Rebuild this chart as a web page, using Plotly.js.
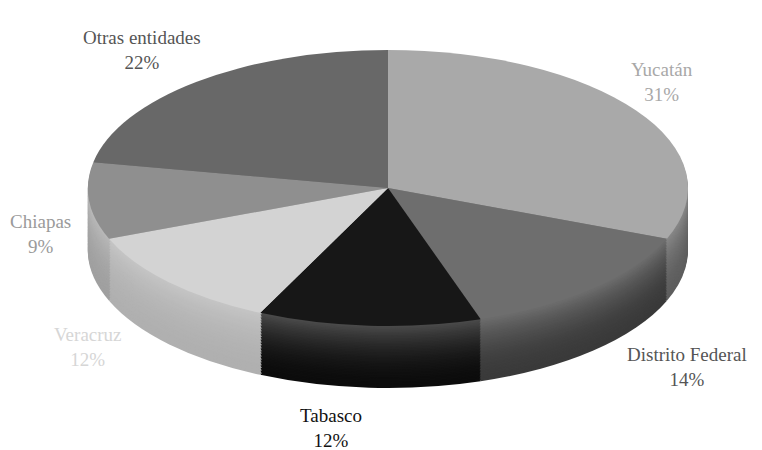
<!DOCTYPE html>
<html>
<head>
<meta charset="utf-8">
<script src="https://cdn.plot.ly/plotly-3.0.1.min.js"></script>
<style>
  html, body { margin: 0; padding: 0; background: #ffffff; }
  #chart { width: 762px; height: 450px; }
</style>
</head>
<body>
<div id="chart"></div>
<script>
// ---- Data ----
var categories = ['Yucatán', 'Distrito Federal', 'Tabasco', 'Veracruz', 'Chiapas', 'Otras entidades'];
var shares = [31, 14, 12, 12, 9, 22];
var percentLabels = ['31%', '14%', '12%', '12%', '9%', '22%'];

// ---- Styles ----
var topColors  = ['#a9a9a9', '#6e6e6e', '#171717', '#d3d3d3', '#8f8f8f', '#686868'];
var sideColors = ['#5e5e5e', '#3a3a3a', '#0c0c0c', '#b0b0b0', '#a0a0a0', '#4c4c4c'];
var labelColors = ['#a8a8a8', '#555555', '#111111', '#d6d6d6', '#9a9a9a', '#555555'];
// label block centres (pixels)
var labelPos = [[662, 82], [687, 367], [331, 428], [88, 347], [40, 234], [142, 50]];

// ellipse geometry of the top face (pixels)
var EX = 388, EY = 188, A = 300, B = 138, DEPTH = 62, NLAYERS = 40;

function mix(hex, t) { // lighten toward white by t
  var n = parseInt(hex.slice(1), 16);
  var r = (n >> 16) & 255, g = (n >> 8) & 255, b = n & 255;
  r = Math.round(r + (255 - r) * t); g = Math.round(g + (255 - g) * t); b = Math.round(b + (255 - b) * t);
  return 'rgb(' + r + ',' + g + ',' + b + ')';
}

var traces = [];
var offsets = [];
for (var k = 0; k < NLAYERS; k++) {
  var off = DEPTH - k * (DEPTH / NLAYERS);
  var t = k / (NLAYERS - 1);
  offsets.push(off);
  traces.push({
    type: 'pie', labels: categories, values: shares, sort: false,
    direction: 'clockwise', rotation: 0, textinfo: 'none', hoverinfo: 'skip',
    marker: { colors: sideColors.map(function (c) { return mix(c, 0.25 * t * t); }), line: { width: 0 } },
    showlegend: false
  });
}
offsets.push(0);
traces.push({
  type: 'pie', labels: categories, values: shares, sort: false,
  direction: 'clockwise', rotation: 0, textinfo: 'none', hoverinfo: 'skip',
  marker: { colors: topColors, line: { width: 0 } },
  showlegend: false
});

var W = 762, H = 450;
var annotations = categories.map(function (c, i) {
  return {
    xref: 'paper', yref: 'paper', x: labelPos[i][0] / W, y: 1 - (labelPos[i][1]) / H,
    xanchor: 'center', yanchor: 'middle', showarrow: false,
    text: c + '<br>' + percentLabels[i],
    font: { family: 'Liberation Serif, serif', size: 19, color: labelColors[i] }
  };
});

var layout = {
  width: W, height: H,
  margin: { l: 0, r: 0, t: 0, b: 0 },
  paper_bgcolor: '#ffffff', plot_bgcolor: '#ffffff',
  showlegend: false,
  annotations: annotations
};

var gd = document.getElementById('chart');
Plotly.newPlot(gd, traces, layout, { staticPlot: true, displayModeBar: false }).then(function () {
  var groups = gd.querySelectorAll('.pielayer .trace');
  groups.forEach(function (g, i) {
    var bb = g.getBBox();
    var cx = bb.x + bb.width / 2, cy = bb.y + bb.height / 2, r = Math.max(bb.width, bb.height) / 2;
    var prev = g.getAttribute('transform') || '';
    g.setAttribute('transform',
      'translate(' + EX + ',' + (EY + offsets[i]) + ') scale(' + (A / r) + ',' + (B / r) + ') translate(' + (-cx) + ',' + (-cy) + ') ' + prev);
  });
});
</script>
</body>
</html>
